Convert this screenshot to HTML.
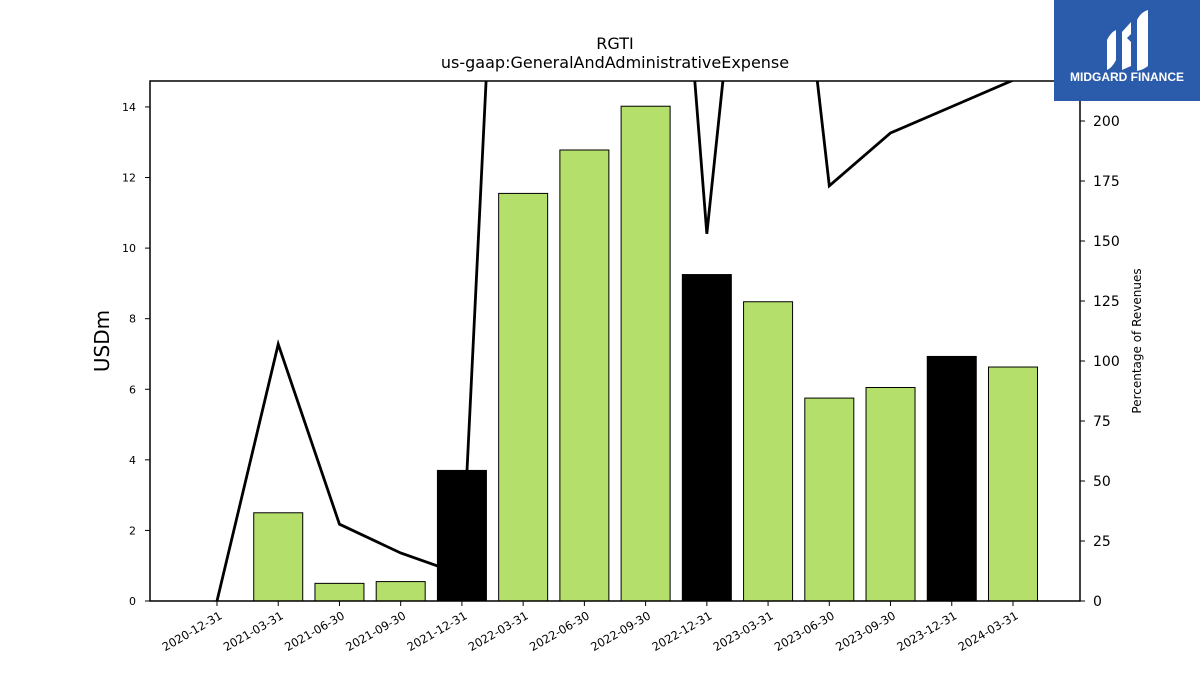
<!DOCTYPE html>
<html><head><meta charset="utf-8"><style>
body{margin:0;background:#fff;width:1200px;height:675px;overflow:hidden;font-family:"Liberation Sans","DejaVu Sans",sans-serif}
</style></head><body>
<svg id="chart" width="1200" height="675" xmlns="http://www.w3.org/2000/svg" font-family="DejaVu Sans, Liberation Sans, sans-serif">
<text x="615" y="49" text-anchor="middle" font-size="16">RGTI</text>
<text x="615" y="68" text-anchor="middle" font-size="16">us-gaap:GeneralAndAdministrativeExpense</text>
<defs><clipPath id="pc"><rect x="150" y="81" width="930" height="520"/></clipPath></defs>
<g id="bars" clip-path="url(#pc)"></g>
<g id="line" clip-path="url(#pc)"></g>
<rect x="150" y="81" width="930" height="520" fill="none" stroke="#000" stroke-width="1.5"/>
<g id="axes"></g>
<text transform="translate(109,341) rotate(-90)" text-anchor="middle" font-size="20">USDm</text>
<text transform="translate(1141,341) rotate(-90)" text-anchor="middle" font-size="12">Percentage of Revenues</text>
<g>
<rect x="1054" y="0" width="146" height="101" fill="#2b5bab"/>
<path d="M1107 40 q4-8 9-10 v30 q-4 8-9 10z M1122 32 l9-10 v12 l-4 4 l4 4 v24 l-9 4z M1137 20 q4-8 11-10 v56 q-5 4-11 5z" fill="#fff"/>
<text x="1127" y="81" text-anchor="middle" font-size="12" font-weight="bold" fill="#fff" font-family="Liberation Sans, sans-serif">MIDGARD FINANCE</text>
</g>
</svg>
<script>
const categories=["2020-12-31","2021-03-31","2021-06-30","2021-09-30","2021-12-31","2022-03-31","2022-06-30","2022-09-30","2022-12-31","2023-03-31","2023-06-30","2023-09-30","2023-12-31","2024-03-31"];
const barValues=[0,2.5,0.5,0.55,3.7,11.55,12.78,14.02,9.25,8.48,5.75,6.05,6.93,6.63];
const barIsAnnual=[false,false,false,false,true,false,false,false,true,false,false,false,true,false];
const pctValues=[0,107,32,20,11,532,500,477,153,396,173,195,206,217];
const leftTicks=[0,2,4,6,8,10,12,14];
const rightTicks=[0,25,50,75,100,125,150,175,200];
const NS="http://www.w3.org/2000/svg";
const xPos=i=>217+i*61.23;
const yL=v=>601-v*35.29;
const yR=v=>601-v*2.4;
function mk(t,a,p){const e=document.createElementNS(NS,t);for(const k in a)e.setAttribute(k,a[k]);p.appendChild(e);return e;}
const gb=document.getElementById('bars'),gl=document.getElementById('line'),ga=document.getElementById('axes');
barValues.forEach((v,i)=>{
 if(v<=0)return;
 const r=mk('rect',{x:xPos(i)-24.5,y:yL(v),width:49,height:601-yL(v),fill:barIsAnnual[i]?'#000':'#b5df6b',stroke:'#000','stroke-width':1},gb);
 
 
});
const pl=mk('polyline',{points:pctValues.map((v,i)=>xPos(i)+','+yR(v)).join(' '),fill:'none',stroke:'#000','stroke-width':2.8,'stroke-linejoin':'miter'},gl);


leftTicks.forEach(t=>{
 mk('line',{x1:145,x2:150,y1:yL(t),y2:yL(t),stroke:'#000'},ga);
 const tx=mk('text',{x:136,y:yL(t)+4,'text-anchor':'end','font-size':11},ga);tx.textContent=t;
 
 
});
rightTicks.forEach(t=>{
 mk('line',{x1:1080,x2:1085,y1:yR(t),y2:yR(t),stroke:'#000'},ga);
 const tx=mk('text',{x:1093,y:yR(t)+5,'font-size':14},ga);tx.textContent=t;
 
 
});
categories.forEach((c,i)=>{
 const x=xPos(i);
 mk('line',{x1:x,x2:x,y1:601,y2:606,stroke:'#000'},ga);
 const tx=mk('text',{transform:`translate(${x+6},${618}) rotate(-30)`,'text-anchor':'end','font-size':11.5},ga);tx.textContent=c;
 
 
});
</script>
</body></html>
